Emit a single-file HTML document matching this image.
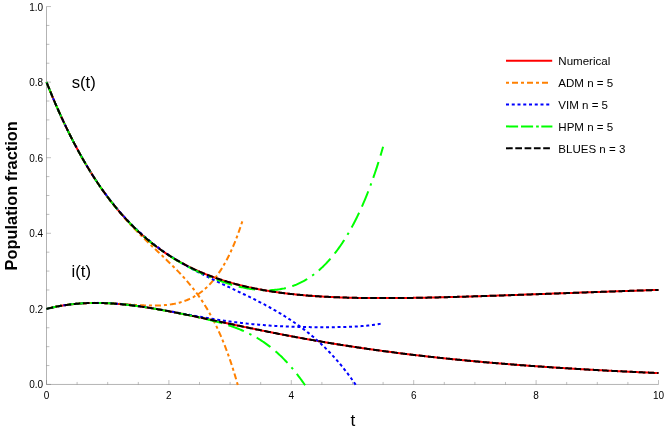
<!DOCTYPE html>
<html><head><meta charset="utf-8"><title>Population fraction</title>
<style>
html,body{margin:0;padding:0;background:#fff;}
svg{display:block;font-family:"Liberation Sans",sans-serif;will-change:transform;}
.c{fill:none;stroke-width:2;stroke-linecap:butt;stroke-linejoin:round;}
</style></head><body>
<svg width="664" height="430" viewBox="0 0 664 430">
<rect width="664" height="430" fill="#ffffff"/>
<g stroke="#666666" stroke-width="0.5" fill="none">
<line x1="46.5" y1="384.45" x2="658.5" y2="384.45"/>
<line x1="46.5" y1="384.45" x2="46.5" y2="6.55"/>
</g>
<g stroke="#666666" stroke-width="0.42" fill="none">
<line x1="46.50" y1="384.45" x2="46.50" y2="380.05"/><line x1="77.10" y1="384.45" x2="77.10" y2="381.95"/><line x1="107.70" y1="384.45" x2="107.70" y2="381.95"/><line x1="138.30" y1="384.45" x2="138.30" y2="381.95"/><line x1="168.90" y1="384.45" x2="168.90" y2="380.05"/><line x1="199.50" y1="384.45" x2="199.50" y2="381.95"/><line x1="230.10" y1="384.45" x2="230.10" y2="381.95"/><line x1="260.70" y1="384.45" x2="260.70" y2="381.95"/><line x1="291.30" y1="384.45" x2="291.30" y2="380.05"/><line x1="321.90" y1="384.45" x2="321.90" y2="381.95"/><line x1="352.50" y1="384.45" x2="352.50" y2="381.95"/><line x1="383.10" y1="384.45" x2="383.10" y2="381.95"/><line x1="413.70" y1="384.45" x2="413.70" y2="380.05"/><line x1="444.30" y1="384.45" x2="444.30" y2="381.95"/><line x1="474.90" y1="384.45" x2="474.90" y2="381.95"/><line x1="505.50" y1="384.45" x2="505.50" y2="381.95"/><line x1="536.10" y1="384.45" x2="536.10" y2="380.05"/><line x1="566.70" y1="384.45" x2="566.70" y2="381.95"/><line x1="597.30" y1="384.45" x2="597.30" y2="381.95"/><line x1="627.90" y1="384.45" x2="627.90" y2="381.95"/><line x1="658.50" y1="384.45" x2="658.50" y2="380.05"/><line x1="46.50" y1="384.45" x2="51.00" y2="384.45"/><line x1="46.50" y1="365.56" x2="49.40" y2="365.56"/><line x1="46.50" y1="346.66" x2="49.40" y2="346.66"/><line x1="46.50" y1="327.76" x2="49.40" y2="327.76"/><line x1="46.50" y1="308.87" x2="51.00" y2="308.87"/><line x1="46.50" y1="289.98" x2="49.40" y2="289.98"/><line x1="46.50" y1="271.08" x2="49.40" y2="271.08"/><line x1="46.50" y1="252.18" x2="49.40" y2="252.18"/><line x1="46.50" y1="233.29" x2="51.00" y2="233.29"/><line x1="46.50" y1="214.39" x2="49.40" y2="214.39"/><line x1="46.50" y1="195.50" x2="49.40" y2="195.50"/><line x1="46.50" y1="176.60" x2="49.40" y2="176.60"/><line x1="46.50" y1="157.71" x2="51.00" y2="157.71"/><line x1="46.50" y1="138.81" x2="49.40" y2="138.81"/><line x1="46.50" y1="119.92" x2="49.40" y2="119.92"/><line x1="46.50" y1="101.03" x2="49.40" y2="101.03"/><line x1="46.50" y1="82.13" x2="51.00" y2="82.13"/><line x1="46.50" y1="63.23" x2="49.40" y2="63.23"/><line x1="46.50" y1="44.34" x2="49.40" y2="44.34"/><line x1="46.50" y1="25.44" x2="49.40" y2="25.44"/><line x1="46.50" y1="6.55" x2="51.00" y2="6.55"/>
</g>
<g font-size="10" fill="#000"><text x="46.50" y="398.6" text-anchor="middle">0</text><text x="168.90" y="398.6" text-anchor="middle">2</text><text x="291.30" y="398.6" text-anchor="middle">4</text><text x="413.70" y="398.6" text-anchor="middle">6</text><text x="536.10" y="398.6" text-anchor="middle">8</text><text x="658.50" y="398.6" text-anchor="middle">10</text><text x="43.1" y="388.45" text-anchor="end">0.0</text><text x="43.1" y="312.87" text-anchor="end">0.2</text><text x="43.1" y="237.29" text-anchor="end">0.4</text><text x="43.1" y="161.71" text-anchor="end">0.6</text><text x="43.1" y="86.13" text-anchor="end">0.8</text><text x="43.1" y="10.55" text-anchor="end">1.0</text></g>
<text x="352.95" y="425.5" font-size="17.3" text-anchor="middle" fill="#000">t</text>
<text transform="translate(16.7,195.8) rotate(-90)" font-size="16.4" font-weight="bold" text-anchor="middle" fill="#000">Population fraction</text>
<text x="71.7" y="88.2" font-size="16.7" fill="#000">s(t)</text>
<text x="71.5" y="277.0" font-size="16.7" fill="#000">i(t)</text>
<g class="c">
<path d="M46.50,82.13 L47.52,84.69 L48.54,87.22 L49.56,89.73 L50.58,92.22 L51.60,94.68 L52.62,97.12 L53.64,99.53 L54.66,101.92 L55.68,104.28 L56.70,106.62 L57.72,108.94 L58.74,111.24 L59.76,113.51 L60.78,115.76 L61.80,117.98 L62.82,120.18 L63.84,122.36 L64.86,124.52 L65.88,126.66 L66.90,128.77 L67.92,130.86 L68.94,132.93 L69.96,134.98 L70.98,137.01 L72.00,139.01 L73.02,141.00 L74.04,142.96 L75.06,144.90 L76.08,146.83 L77.10,148.73 L78.12,150.61 L79.14,152.47 L80.16,154.31 L81.18,156.14 L82.20,157.94 L83.22,159.72 L84.24,161.49 L85.26,163.23 L86.28,164.96 L87.30,166.66 L88.32,168.35 L89.34,170.02 L90.36,171.67 L91.38,173.31 L92.40,174.92 L93.42,176.52 L94.44,178.10 L95.46,179.66 L96.48,181.21 L97.50,182.74 L98.52,184.25 L99.54,185.74 L100.56,187.22 L101.58,188.68 L102.60,190.12 L103.62,191.55 L104.64,192.96 L105.66,194.36 L106.68,195.74 L107.70,197.10 L108.72,198.45 L109.74,199.78 L110.76,201.10 L111.78,202.40 L112.80,203.69 L113.82,204.96 L114.84,206.22 L115.86,207.47 L116.88,208.70 L117.90,209.91 L118.92,211.11 L119.94,212.30 L120.96,213.47 L121.98,214.63 L123.00,215.78 L124.02,216.91 L125.04,218.03 L126.06,219.13 L127.08,220.23 L128.10,221.31 L129.12,222.37 L130.14,223.43 L131.16,224.47 L132.18,225.50 L133.20,226.52 L134.22,227.52 L135.24,228.51 L136.26,229.50 L137.28,230.47 L138.30,231.42 L139.32,232.37 L140.34,233.30 L141.36,234.23 L142.38,235.14 L143.40,236.04 L144.42,236.93 L145.44,237.81 L146.46,238.68 L147.48,239.54 L148.50,240.39 L149.52,241.22 L150.54,242.05 L151.56,242.87 L152.58,243.67 L153.60,244.47 L154.62,245.26 L155.64,246.04 L156.66,246.80 L157.68,247.56 L158.70,248.31 L159.72,249.05 L160.74,249.78 L161.76,250.50 L162.78,251.21 L163.80,251.92 L164.82,252.61 L165.84,253.30 L166.86,253.97 L167.88,254.64 L168.90,255.30 L169.92,255.95 L170.94,256.60 L171.96,257.23 L172.98,257.86 L174.00,258.48 L175.02,259.09 L176.04,259.69 L177.06,260.29 L178.08,260.88 L179.10,261.46 L180.12,262.03 L181.14,262.60 L182.16,263.16 L183.18,263.71 L184.20,264.25 L185.22,264.79 L186.24,265.32 L187.26,265.84 L188.28,266.36 L189.30,266.87 L190.32,267.37 L191.34,267.87 L192.36,268.36 L193.38,268.84 L194.40,269.32 L195.42,269.79 L196.44,270.25 L197.46,270.71 L198.48,271.17 L199.50,271.61 L200.52,272.05 L201.54,272.49 L202.56,272.91 L203.58,273.34 L204.60,273.76 L205.62,274.17 L206.64,274.57 L207.66,274.97 L208.68,275.37 L209.70,275.76 L210.72,276.14 L211.74,276.52 L212.76,276.90 L213.78,277.26 L214.80,277.63 L215.82,277.99 L216.84,278.34 L217.86,278.69 L218.88,279.03 L219.90,279.37 L220.92,279.71 L221.94,280.04 L222.96,280.36 L223.98,280.69 L225.00,281.00 L226.02,281.31 L227.04,281.62 L228.06,281.92 L229.08,282.22 L230.10,282.52 L231.12,282.81 L232.14,283.09 L233.16,283.38 L234.18,283.65 L235.20,283.93 L236.22,284.20 L237.24,284.46 L238.26,284.73 L239.28,284.98 L240.30,285.24 L241.32,285.49 L242.34,285.74 L243.36,285.98 L244.38,286.22 L245.40,286.46 L246.42,286.69 L247.44,286.92 L248.46,287.15 L249.48,287.37 L250.50,287.59 L251.52,287.80 L252.54,288.02 L253.56,288.23 L254.58,288.43 L255.60,288.63 L256.62,288.83 L257.64,289.03 L258.66,289.22 L259.68,289.42 L260.70,289.60 L261.72,289.79 L262.74,289.97 L263.76,290.15 L264.78,290.32 L265.80,290.50 L266.82,290.67 L267.84,290.84 L268.86,291.00 L269.88,291.16 L270.90,291.32 L271.92,291.48 L272.94,291.64 L273.96,291.79 L274.98,291.94 L276.00,292.08 L277.02,292.23 L278.04,292.37 L279.06,292.51 L280.08,292.65 L281.10,292.78 L282.12,292.91 L283.14,293.04 L284.16,293.17 L285.18,293.30 L286.20,293.42 L287.22,293.54 L288.24,293.66 L289.26,293.78 L290.28,293.89 L291.30,294.01 L292.32,294.12 L293.34,294.23 L294.36,294.33 L295.38,294.44 L296.40,294.54 L297.42,294.64 L298.44,294.74 L299.46,294.84 L300.48,294.93 L301.50,295.03 L302.52,295.12 L303.54,295.21 L304.56,295.30 L305.58,295.38 L306.60,295.47 L307.62,295.55 L308.64,295.63 L309.66,295.71 L310.68,295.79 L311.70,295.86 L312.72,295.94 L313.74,296.01 L314.76,296.08 L315.78,296.15 L316.80,296.22 L317.82,296.29 L318.84,296.35 L319.86,296.42 L320.88,296.48 L321.90,296.54 L322.92,296.60 L323.94,296.66 L324.96,296.71 L325.98,296.77 L327.00,296.82 L328.02,296.87 L329.04,296.93 L330.06,296.98 L331.08,297.02 L332.10,297.07 L333.12,297.12 L334.14,297.16 L335.16,297.21 L336.18,297.25 L337.20,297.29 L338.22,297.33 L339.24,297.37 L340.26,297.41 L341.28,297.44 L342.30,297.48 L343.32,297.51 L344.34,297.55 L345.36,297.58 L346.38,297.61 L347.40,297.64 L348.42,297.67 L349.44,297.70 L350.46,297.72 L351.48,297.75 L352.50,297.77 L353.52,297.80 L354.54,297.82 L355.56,297.84 L356.58,297.86 L357.60,297.88 L358.62,297.90 L359.64,297.92 L360.66,297.94 L361.68,297.96 L362.70,297.97 L363.72,297.99 L364.74,298.00 L365.76,298.01 L366.78,298.03 L367.80,298.04 L368.82,298.05 L369.84,298.06 L370.86,298.07 L371.88,298.08 L372.90,298.08 L373.92,298.09 L374.94,298.10 L375.96,298.10 L376.98,298.11 L378.00,298.11 L379.02,298.11 L380.04,298.12 L381.06,298.12 L382.08,298.12 L383.10,298.12 L384.12,298.12 L385.14,298.12 L386.16,298.12 L387.18,298.12 L388.20,298.11 L389.22,298.11 L390.24,298.11 L391.26,298.10 L392.28,298.10 L393.30,298.09 L394.32,298.09 L395.34,298.08 L396.36,298.07 L397.38,298.06 L398.40,298.06 L399.42,298.05 L400.44,298.04 L401.46,298.03 L402.48,298.02 L403.50,298.01 L404.52,298.00 L405.54,297.98 L406.56,297.97 L407.58,297.96 L408.60,297.94 L409.62,297.93 L410.64,297.92 L411.66,297.90 L412.68,297.89 L413.70,297.87 L414.72,297.85 L415.74,297.84 L416.76,297.82 L417.78,297.80 L418.80,297.79 L419.82,297.77 L420.84,297.75 L421.86,297.73 L422.88,297.71 L423.90,297.69 L424.92,297.67 L425.94,297.65 L426.96,297.63 L427.98,297.61 L429.00,297.59 L430.02,297.57 L431.04,297.54 L432.06,297.52 L433.08,297.50 L434.10,297.48 L435.12,297.45 L436.14,297.43 L437.16,297.41 L438.18,297.38 L439.20,297.36 L440.22,297.33 L441.24,297.31 L442.26,297.28 L443.28,297.26 L444.30,297.23 L445.32,297.20 L446.34,297.18 L447.36,297.15 L448.38,297.12 L449.40,297.10 L450.42,297.07 L451.44,297.04 L452.46,297.01 L453.48,296.98 L454.50,296.95 L455.52,296.93 L456.54,296.90 L457.56,296.87 L458.58,296.84 L459.60,296.81 L460.62,296.78 L461.64,296.75 L462.66,296.72 L463.68,296.69 L464.70,296.66 L465.72,296.63 L466.74,296.60 L467.76,296.57 L468.78,296.53 L469.80,296.50 L470.82,296.47 L471.84,296.44 L472.86,296.41 L473.88,296.37 L474.90,296.34 L475.92,296.31 L476.94,296.28 L477.96,296.24 L478.98,296.21 L480.00,296.18 L481.02,296.15 L482.04,296.11 L483.06,296.08 L484.08,296.04 L485.10,296.01 L486.12,295.98 L487.14,295.94 L488.16,295.91 L489.18,295.87 L490.20,295.84 L491.22,295.81 L492.24,295.77 L493.26,295.74 L494.28,295.70 L495.30,295.67 L496.32,295.63 L497.34,295.60 L498.36,295.56 L499.38,295.53 L500.40,295.49 L501.42,295.46 L502.44,295.42 L503.46,295.39 L504.48,295.35 L505.50,295.31 L506.52,295.28 L507.54,295.24 L508.56,295.21 L509.58,295.17 L510.60,295.13 L511.62,295.10 L512.64,295.06 L513.66,295.03 L514.68,294.99 L515.70,294.95 L516.72,294.92 L517.74,294.88 L518.76,294.84 L519.78,294.81 L520.80,294.77 L521.82,294.73 L522.84,294.70 L523.86,294.66 L524.88,294.62 L525.90,294.59 L526.92,294.55 L527.94,294.51 L528.96,294.48 L529.98,294.44 L531.00,294.40 L532.02,294.36 L533.04,294.33 L534.06,294.29 L535.08,294.25 L536.10,294.22 L537.12,294.18 L538.14,294.14 L539.16,294.10 L540.18,294.07 L541.20,294.03 L542.22,293.99 L543.24,293.96 L544.26,293.92 L545.28,293.88 L546.30,293.84 L547.32,293.81 L548.34,293.77 L549.36,293.73 L550.38,293.69 L551.40,293.66 L552.42,293.62 L553.44,293.58 L554.46,293.54 L555.48,293.51 L556.50,293.47 L557.52,293.43 L558.54,293.40 L559.56,293.36 L560.58,293.32 L561.60,293.28 L562.62,293.25 L563.64,293.21 L564.66,293.17 L565.68,293.14 L566.70,293.10 L567.72,293.06 L568.74,293.02 L569.76,292.99 L570.78,292.95 L571.80,292.91 L572.82,292.88 L573.84,292.84 L574.86,292.80 L575.88,292.76 L576.90,292.73 L577.92,292.69 L578.94,292.65 L579.96,292.62 L580.98,292.58 L582.00,292.54 L583.02,292.51 L584.04,292.47 L585.06,292.43 L586.08,292.40 L587.10,292.36 L588.12,292.32 L589.14,292.29 L590.16,292.25 L591.18,292.21 L592.20,292.18 L593.22,292.14 L594.24,292.10 L595.26,292.07 L596.28,292.03 L597.30,292.00 L598.32,291.96 L599.34,291.92 L600.36,291.89 L601.38,291.85 L602.40,291.81 L603.42,291.78 L604.44,291.74 L605.46,291.71 L606.48,291.67 L607.50,291.64 L608.52,291.60 L609.54,291.56 L610.56,291.53 L611.58,291.49 L612.60,291.46 L613.62,291.42 L614.64,291.39 L615.66,291.35 L616.68,291.32 L617.70,291.28 L618.72,291.24 L619.74,291.21 L620.76,291.17 L621.78,291.14 L622.80,291.10 L623.82,291.07 L624.84,291.03 L625.86,291.00 L626.88,290.97 L627.90,290.93 L628.92,290.90 L629.94,290.86 L630.96,290.83 L631.98,290.79 L633.00,290.76 L634.02,290.72 L635.04,290.69 L636.06,290.65 L637.08,290.62 L638.10,290.59 L639.12,290.55 L640.14,290.52 L641.16,290.48 L642.18,290.45 L643.20,290.42 L644.22,290.38 L645.24,290.35 L646.26,290.32 L647.28,290.28 L648.30,290.25 L649.32,290.21 L650.34,290.18 L651.36,290.15 L652.38,290.11 L653.40,290.08 L654.42,290.05 L655.44,290.02 L656.46,289.98 L657.48,289.95 L658.50,289.92" stroke="#ff0000"/>
<path d="M46.50,308.87 L47.52,308.62 L48.54,308.37 L49.56,308.12 L50.58,307.89 L51.60,307.66 L52.62,307.43 L53.64,307.21 L54.66,307.00 L55.68,306.79 L56.70,306.59 L57.72,306.39 L58.74,306.20 L59.76,306.02 L60.78,305.84 L61.80,305.67 L62.82,305.50 L63.84,305.34 L64.86,305.18 L65.88,305.03 L66.90,304.89 L67.92,304.75 L68.94,304.62 L69.96,304.49 L70.98,304.37 L72.00,304.25 L73.02,304.14 L74.04,304.03 L75.06,303.93 L76.08,303.83 L77.10,303.74 L78.12,303.66 L79.14,303.58 L80.16,303.50 L81.18,303.43 L82.20,303.37 L83.22,303.31 L84.24,303.26 L85.26,303.21 L86.28,303.16 L87.30,303.12 L88.32,303.09 L89.34,303.05 L90.36,303.03 L91.38,303.01 L92.40,302.99 L93.42,302.98 L94.44,302.97 L95.46,302.97 L96.48,302.97 L97.50,302.98 L98.52,302.99 L99.54,303.00 L100.56,303.02 L101.58,303.04 L102.60,303.07 L103.62,303.10 L104.64,303.13 L105.66,303.17 L106.68,303.21 L107.70,303.26 L108.72,303.31 L109.74,303.36 L110.76,303.42 L111.78,303.48 L112.80,303.55 L113.82,303.62 L114.84,303.69 L115.86,303.76 L116.88,303.84 L117.90,303.93 L118.92,304.01 L119.94,304.10 L120.96,304.19 L121.98,304.29 L123.00,304.38 L124.02,304.49 L125.04,304.59 L126.06,304.70 L127.08,304.81 L128.10,304.92 L129.12,305.04 L130.14,305.15 L131.16,305.28 L132.18,305.40 L133.20,305.53 L134.22,305.66 L135.24,305.79 L136.26,305.92 L137.28,306.06 L138.30,306.20 L139.32,306.34 L140.34,306.48 L141.36,306.63 L142.38,306.78 L143.40,306.93 L144.42,307.08 L145.44,307.23 L146.46,307.39 L147.48,307.55 L148.50,307.71 L149.52,307.87 L150.54,308.03 L151.56,308.20 L152.58,308.37 L153.60,308.54 L154.62,308.71 L155.64,308.88 L156.66,309.06 L157.68,309.23 L158.70,309.41 L159.72,309.59 L160.74,309.77 L161.76,309.95 L162.78,310.13 L163.80,310.32 L164.82,310.51 L165.84,310.69 L166.86,310.88 L167.88,311.07 L168.90,311.26 L169.92,311.46 L170.94,311.65 L171.96,311.84 L172.98,312.04 L174.00,312.24 L175.02,312.43 L176.04,312.63 L177.06,312.83 L178.08,313.03 L179.10,313.23 L180.12,313.44 L181.14,313.64 L182.16,313.84 L183.18,314.05 L184.20,314.25 L185.22,314.46 L186.24,314.67 L187.26,314.87 L188.28,315.08 L189.30,315.29 L190.32,315.50 L191.34,315.71 L192.36,315.92 L193.38,316.13 L194.40,316.34 L195.42,316.56 L196.44,316.77 L197.46,316.98 L198.48,317.19 L199.50,317.41 L200.52,317.62 L201.54,317.84 L202.56,318.05 L203.58,318.27 L204.60,318.48 L205.62,318.70 L206.64,318.91 L207.66,319.13 L208.68,319.34 L209.70,319.56 L210.72,319.78 L211.74,319.99 L212.76,320.21 L213.78,320.43 L214.80,320.64 L215.82,320.86 L216.84,321.08 L217.86,321.29 L218.88,321.51 L219.90,321.73 L220.92,321.94 L221.94,322.16 L222.96,322.38 L223.98,322.59 L225.00,322.81 L226.02,323.03 L227.04,323.24 L228.06,323.46 L229.08,323.68 L230.10,323.89 L231.12,324.11 L232.14,324.32 L233.16,324.54 L234.18,324.76 L235.20,324.97 L236.22,325.19 L237.24,325.40 L238.26,325.62 L239.28,325.83 L240.30,326.04 L241.32,326.26 L242.34,326.47 L243.36,326.68 L244.38,326.90 L245.40,327.11 L246.42,327.32 L247.44,327.53 L248.46,327.75 L249.48,327.96 L250.50,328.17 L251.52,328.38 L252.54,328.59 L253.56,328.80 L254.58,329.01 L255.60,329.22 L256.62,329.43 L257.64,329.63 L258.66,329.84 L259.68,330.05 L260.70,330.26 L261.72,330.46 L262.74,330.67 L263.76,330.87 L264.78,331.08 L265.80,331.28 L266.82,331.49 L267.84,331.69 L268.86,331.90 L269.88,332.10 L270.90,332.30 L271.92,332.50 L272.94,332.70 L273.96,332.90 L274.98,333.10 L276.00,333.30 L277.02,333.50 L278.04,333.70 L279.06,333.90 L280.08,334.10 L281.10,334.30 L282.12,334.49 L283.14,334.69 L284.16,334.88 L285.18,335.08 L286.20,335.27 L287.22,335.47 L288.24,335.66 L289.26,335.85 L290.28,336.04 L291.30,336.24 L292.32,336.43 L293.34,336.62 L294.36,336.81 L295.38,337.00 L296.40,337.19 L297.42,337.37 L298.44,337.56 L299.46,337.75 L300.48,337.93 L301.50,338.12 L302.52,338.31 L303.54,338.49 L304.56,338.67 L305.58,338.86 L306.60,339.04 L307.62,339.22 L308.64,339.40 L309.66,339.58 L310.68,339.77 L311.70,339.94 L312.72,340.12 L313.74,340.30 L314.76,340.48 L315.78,340.66 L316.80,340.83 L317.82,341.01 L318.84,341.19 L319.86,341.36 L320.88,341.54 L321.90,341.71 L322.92,341.88 L323.94,342.05 L324.96,342.23 L325.98,342.40 L327.00,342.57 L328.02,342.74 L329.04,342.91 L330.06,343.08 L331.08,343.24 L332.10,343.41 L333.12,343.58 L334.14,343.75 L335.16,343.91 L336.18,344.08 L337.20,344.24 L338.22,344.40 L339.24,344.57 L340.26,344.73 L341.28,344.89 L342.30,345.05 L343.32,345.21 L344.34,345.37 L345.36,345.53 L346.38,345.69 L347.40,345.85 L348.42,346.01 L349.44,346.17 L350.46,346.32 L351.48,346.48 L352.50,346.63 L353.52,346.79 L354.54,346.94 L355.56,347.10 L356.58,347.25 L357.60,347.40 L358.62,347.55 L359.64,347.70 L360.66,347.85 L361.68,348.00 L362.70,348.15 L363.72,348.30 L364.74,348.45 L365.76,348.60 L366.78,348.74 L367.80,348.89 L368.82,349.04 L369.84,349.18 L370.86,349.33 L371.88,349.47 L372.90,349.61 L373.92,349.76 L374.94,349.90 L375.96,350.04 L376.98,350.18 L378.00,350.32 L379.02,350.46 L380.04,350.60 L381.06,350.74 L382.08,350.88 L383.10,351.02 L384.12,351.15 L385.14,351.29 L386.16,351.43 L387.18,351.56 L388.20,351.70 L389.22,351.83 L390.24,351.97 L391.26,352.10 L392.28,352.23 L393.30,352.36 L394.32,352.50 L395.34,352.63 L396.36,352.76 L397.38,352.89 L398.40,353.02 L399.42,353.15 L400.44,353.27 L401.46,353.40 L402.48,353.53 L403.50,353.66 L404.52,353.78 L405.54,353.91 L406.56,354.03 L407.58,354.16 L408.60,354.28 L409.62,354.40 L410.64,354.53 L411.66,354.65 L412.68,354.77 L413.70,354.89 L414.72,355.01 L415.74,355.14 L416.76,355.26 L417.78,355.37 L418.80,355.49 L419.82,355.61 L420.84,355.73 L421.86,355.85 L422.88,355.96 L423.90,356.08 L424.92,356.20 L425.94,356.31 L426.96,356.43 L427.98,356.54 L429.00,356.66 L430.02,356.77 L431.04,356.88 L432.06,356.99 L433.08,357.11 L434.10,357.22 L435.12,357.33 L436.14,357.44 L437.16,357.55 L438.18,357.66 L439.20,357.77 L440.22,357.88 L441.24,357.99 L442.26,358.09 L443.28,358.20 L444.30,358.31 L445.32,358.41 L446.34,358.52 L447.36,358.63 L448.38,358.73 L449.40,358.84 L450.42,358.94 L451.44,359.04 L452.46,359.15 L453.48,359.25 L454.50,359.35 L455.52,359.45 L456.54,359.56 L457.56,359.66 L458.58,359.76 L459.60,359.86 L460.62,359.96 L461.64,360.06 L462.66,360.16 L463.68,360.25 L464.70,360.35 L465.72,360.45 L466.74,360.55 L467.76,360.64 L468.78,360.74 L469.80,360.84 L470.82,360.93 L471.84,361.03 L472.86,361.12 L473.88,361.22 L474.90,361.31 L475.92,361.40 L476.94,361.50 L477.96,361.59 L478.98,361.68 L480.00,361.77 L481.02,361.86 L482.04,361.96 L483.06,362.05 L484.08,362.14 L485.10,362.23 L486.12,362.32 L487.14,362.41 L488.16,362.49 L489.18,362.58 L490.20,362.67 L491.22,362.76 L492.24,362.85 L493.26,362.93 L494.28,363.02 L495.30,363.10 L496.32,363.19 L497.34,363.28 L498.36,363.36 L499.38,363.45 L500.40,363.53 L501.42,363.61 L502.44,363.70 L503.46,363.78 L504.48,363.86 L505.50,363.95 L506.52,364.03 L507.54,364.11 L508.56,364.19 L509.58,364.27 L510.60,364.35 L511.62,364.43 L512.64,364.51 L513.66,364.59 L514.68,364.67 L515.70,364.75 L516.72,364.83 L517.74,364.91 L518.76,364.99 L519.78,365.06 L520.80,365.14 L521.82,365.22 L522.84,365.29 L523.86,365.37 L524.88,365.45 L525.90,365.52 L526.92,365.60 L527.94,365.67 L528.96,365.75 L529.98,365.82 L531.00,365.90 L532.02,365.97 L533.04,366.04 L534.06,366.12 L535.08,366.19 L536.10,366.26 L537.12,366.33 L538.14,366.40 L539.16,366.48 L540.18,366.55 L541.20,366.62 L542.22,366.69 L543.24,366.76 L544.26,366.83 L545.28,366.90 L546.30,366.97 L547.32,367.04 L548.34,367.11 L549.36,367.18 L550.38,367.24 L551.40,367.31 L552.42,367.38 L553.44,367.45 L554.46,367.51 L555.48,367.58 L556.50,367.65 L557.52,367.71 L558.54,367.78 L559.56,367.84 L560.58,367.91 L561.60,367.97 L562.62,368.04 L563.64,368.10 L564.66,368.17 L565.68,368.23 L566.70,368.30 L567.72,368.36 L568.74,368.42 L569.76,368.49 L570.78,368.55 L571.80,368.61 L572.82,368.67 L573.84,368.73 L574.86,368.80 L575.88,368.86 L576.90,368.92 L577.92,368.98 L578.94,369.04 L579.96,369.10 L580.98,369.16 L582.00,369.22 L583.02,369.28 L584.04,369.34 L585.06,369.40 L586.08,369.46 L587.10,369.52 L588.12,369.57 L589.14,369.63 L590.16,369.69 L591.18,369.75 L592.20,369.80 L593.22,369.86 L594.24,369.92 L595.26,369.97 L596.28,370.03 L597.30,370.09 L598.32,370.14 L599.34,370.20 L600.36,370.25 L601.38,370.31 L602.40,370.36 L603.42,370.42 L604.44,370.47 L605.46,370.53 L606.48,370.58 L607.50,370.64 L608.52,370.69 L609.54,370.74 L610.56,370.80 L611.58,370.85 L612.60,370.90 L613.62,370.95 L614.64,371.01 L615.66,371.06 L616.68,371.11 L617.70,371.16 L618.72,371.21 L619.74,371.26 L620.76,371.31 L621.78,371.37 L622.80,371.42 L623.82,371.47 L624.84,371.52 L625.86,371.57 L626.88,371.62 L627.90,371.66 L628.92,371.71 L629.94,371.76 L630.96,371.81 L631.98,371.86 L633.00,371.91 L634.02,371.96 L635.04,372.01 L636.06,372.05 L637.08,372.10 L638.10,372.15 L639.12,372.20 L640.14,372.24 L641.16,372.29 L642.18,372.34 L643.20,372.38 L644.22,372.43 L645.24,372.48 L646.26,372.52 L647.28,372.57 L648.30,372.61 L649.32,372.66 L650.34,372.70 L651.36,372.75 L652.38,372.79 L653.40,372.84 L654.42,372.88 L655.44,372.93 L656.46,372.97 L657.48,373.01 L658.50,373.06" stroke="#ff0000"/>
<path d="M46.50,82.13 L47.52,84.69 L48.54,87.22 L49.56,89.73 L50.58,92.22 L51.60,94.68 L52.62,97.12 L53.64,99.53 L54.66,101.92 L55.68,104.28 L56.70,106.62 L57.72,108.94 L58.74,111.24 L59.76,113.51 L60.78,115.76 L61.80,117.98 L62.82,120.18 L63.84,122.36 L64.86,124.52 L65.88,126.66 L66.90,128.77 L67.92,130.86 L68.94,132.93 L69.96,134.98 L70.98,137.01 L72.00,139.01 L73.02,141.00 L74.04,142.96 L75.06,144.91 L76.08,146.83 L77.10,148.73 L78.12,150.61 L79.14,152.48 L80.16,154.32 L81.18,156.14 L82.20,157.95 L83.22,159.73 L84.24,161.49 L85.26,163.24 L86.28,164.97 L87.30,166.68 L88.32,168.37 L89.34,170.04 L90.36,171.69 L91.38,173.33 L92.40,174.95 L93.42,176.55 L94.44,178.13 L95.46,179.70 L96.48,181.25 L97.50,182.78 L98.52,184.30 L99.54,185.80 L100.56,187.28 L101.58,188.75 L102.60,190.20 L103.62,191.64 L104.64,193.06 L105.66,194.46 L106.68,195.86 L107.70,197.23 L108.72,198.59 L109.74,199.94 L110.76,201.27 L111.78,202.59 L112.80,203.90 L113.82,205.19 L114.84,206.47 L115.86,207.73 L116.88,208.98 L117.90,210.22 L118.92,211.45 L119.94,212.67 L120.96,213.87 L121.98,215.06 L123.00,216.24 L124.02,217.41 L125.04,218.57 L126.06,219.71 L127.08,220.85 L128.10,221.98 L129.12,223.09 L130.14,224.20 L131.16,225.30 L132.18,226.38 L133.20,227.46 L134.22,228.53 L135.24,229.60 L136.26,230.65 L137.28,231.70 L138.30,232.74 L139.32,233.77 L140.34,234.79 L141.36,235.81 L142.38,236.82 L143.40,237.83 L144.42,238.83 L145.44,239.83 L146.46,240.82 L147.48,241.80 L148.50,242.79 L149.52,243.76 L150.54,244.74 L151.56,245.71 L152.58,246.68 L153.60,247.65 L154.62,248.61 L155.64,249.58 L156.66,250.54 L157.68,251.50 L158.70,252.46 L159.72,253.42 L160.74,254.39 L161.76,255.35 L162.78,256.31 L163.80,257.28 L164.82,258.25 L165.84,259.22 L166.86,260.20 L167.88,261.18 L168.90,262.17 L169.92,263.16 L170.94,264.15 L171.96,265.16 L172.98,266.17 L174.00,267.18 L175.02,268.21 L176.04,269.24 L177.06,270.29 L178.08,271.34 L179.10,272.40 L180.12,273.48 L181.14,274.57 L182.16,275.67 L183.18,276.78 L184.20,277.91 L185.22,279.05 L186.24,280.21 L187.26,281.39 L188.28,282.58 L189.30,283.79 L190.32,285.02 L191.34,286.27 L192.36,287.54 L193.38,288.84 L194.40,290.16 L195.42,291.50 L196.44,292.86 L197.46,294.25 L198.48,295.67 L199.50,297.12 L200.52,298.59 L201.54,300.10 L202.56,301.64 L203.58,303.21 L204.60,304.81 L205.62,306.45 L206.64,308.12 L207.66,309.84 L208.68,311.59 L209.70,313.38 L210.72,315.21 L211.74,317.09 L212.76,319.01 L213.78,320.98 L214.80,323.00 L215.82,325.06 L216.84,327.18 L217.86,329.35 L218.88,331.57 L219.90,333.85 L220.92,336.19 L221.94,338.59 L222.96,341.05 L223.98,343.57 L225.00,346.16 L226.02,348.81 L227.04,351.54 L228.06,354.34 L229.08,357.21 L230.10,360.16 L231.12,363.18 L232.14,366.29 L233.16,369.48 L234.18,372.76 L235.20,376.12 L236.22,379.58 L237.24,383.13 L237.82,385.21" stroke="#ff8000" stroke-dasharray="3 3 6 3"/>
<path d="M46.50,308.87 L47.52,308.62 L48.54,308.37 L49.56,308.12 L50.58,307.89 L51.60,307.66 L52.62,307.43 L53.64,307.21 L54.66,307.00 L55.68,306.79 L56.70,306.59 L57.72,306.39 L58.74,306.20 L59.76,306.02 L60.78,305.84 L61.80,305.67 L62.82,305.50 L63.84,305.34 L64.86,305.18 L65.88,305.03 L66.90,304.89 L67.92,304.75 L68.94,304.62 L69.96,304.49 L70.98,304.37 L72.00,304.25 L73.02,304.14 L74.04,304.03 L75.06,303.93 L76.08,303.84 L77.10,303.75 L78.12,303.66 L79.14,303.58 L80.16,303.51 L81.18,303.44 L82.20,303.37 L83.22,303.31 L84.24,303.26 L85.26,303.21 L86.28,303.16 L87.30,303.12 L88.32,303.09 L89.34,303.06 L90.36,303.03 L91.38,303.01 L92.40,302.99 L93.42,302.98 L94.44,302.97 L95.46,302.97 L96.48,302.96 L97.50,302.97 L98.52,302.97 L99.54,302.99 L100.56,303.00 L101.58,303.02 L102.60,303.04 L103.62,303.07 L104.64,303.10 L105.66,303.13 L106.68,303.16 L107.70,303.20 L108.72,303.24 L109.74,303.29 L110.76,303.33 L111.78,303.38 L112.80,303.43 L113.82,303.49 L114.84,303.54 L115.86,303.60 L116.88,303.66 L117.90,303.72 L118.92,303.79 L119.94,303.85 L120.96,303.92 L121.98,303.98 L123.00,304.05 L124.02,304.12 L125.04,304.19 L126.06,304.26 L127.08,304.33 L128.10,304.40 L129.12,304.47 L130.14,304.54 L131.16,304.61 L132.18,304.68 L133.20,304.75 L134.22,304.81 L135.24,304.88 L136.26,304.94 L137.28,305.01 L138.30,305.07 L139.32,305.12 L140.34,305.18 L141.36,305.23 L142.38,305.28 L143.40,305.33 L144.42,305.38 L145.44,305.42 L146.46,305.45 L147.48,305.48 L148.50,305.51 L149.52,305.54 L150.54,305.55 L151.56,305.57 L152.58,305.57 L153.60,305.58 L154.62,305.57 L155.64,305.56 L156.66,305.54 L157.68,305.52 L158.70,305.48 L159.72,305.44 L160.74,305.40 L161.76,305.34 L162.78,305.27 L163.80,305.20 L164.82,305.11 L165.84,305.02 L166.86,304.91 L167.88,304.80 L168.90,304.67 L169.92,304.53 L170.94,304.38 L171.96,304.22 L172.98,304.05 L174.00,303.86 L175.02,303.65 L176.04,303.44 L177.06,303.21 L178.08,302.96 L179.10,302.70 L180.12,302.42 L181.14,302.12 L182.16,301.81 L183.18,301.48 L184.20,301.13 L185.22,300.76 L186.24,300.37 L187.26,299.96 L188.28,299.53 L189.30,299.08 L190.32,298.61 L191.34,298.11 L192.36,297.59 L193.38,297.05 L194.40,296.48 L195.42,295.88 L196.44,295.26 L197.46,294.61 L198.48,293.93 L199.50,293.23 L200.52,292.49 L201.54,291.72 L202.56,290.92 L203.58,290.09 L204.60,289.22 L205.62,288.32 L206.64,287.39 L207.66,286.41 L208.68,285.40 L209.70,284.35 L210.72,283.26 L211.74,282.13 L212.76,280.95 L213.78,279.73 L214.80,278.47 L215.82,277.16 L216.84,275.80 L217.86,274.39 L218.88,272.93 L219.90,271.42 L220.92,269.86 L221.94,268.24 L222.96,266.56 L223.98,264.83 L225.00,263.03 L226.02,261.17 L227.04,259.25 L228.06,257.26 L229.08,255.21 L230.10,253.08 L231.12,250.88 L232.14,248.61 L233.16,246.26 L234.18,243.84 L235.20,241.33 L236.22,238.74 L237.24,236.06 L238.26,233.30 L239.28,230.44 L240.30,227.49 L241.32,224.44 L242.34,221.30" stroke="#ff8000" stroke-dasharray="3 3 6 3" stroke-dashoffset="2"/>
<path d="M46.50,82.13 L47.52,84.69 L48.54,87.22 L49.56,89.73 L50.58,92.22 L51.60,94.68 L52.62,97.12 L53.64,99.53 L54.66,101.92 L55.68,104.28 L56.70,106.62 L57.72,108.94 L58.74,111.24 L59.76,113.51 L60.78,115.75 L61.80,117.98 L62.82,120.18 L63.84,122.36 L64.86,124.52 L65.88,126.65 L66.90,128.76 L67.92,130.86 L68.94,132.92 L69.96,134.97 L70.98,137.00 L72.00,139.00 L73.02,140.98 L74.04,142.95 L75.06,144.89 L76.08,146.81 L77.10,148.71 L78.12,150.59 L79.14,152.45 L80.16,154.29 L81.18,156.10 L82.20,157.90 L83.22,159.68 L84.24,161.44 L85.26,163.18 L86.28,164.91 L87.30,166.61 L88.32,168.29 L89.34,169.96 L90.36,171.60 L91.38,173.23 L92.40,174.84 L93.42,176.43 L94.44,178.01 L95.46,179.56 L96.48,181.10 L97.50,182.62 L98.52,184.13 L99.54,185.61 L100.56,187.08 L101.58,188.54 L102.60,189.97 L103.62,191.39 L104.64,192.79 L105.66,194.18 L106.68,195.55 L107.70,196.91 L108.72,198.25 L109.74,199.57 L110.76,200.88 L111.78,202.17 L112.80,203.45 L113.82,204.72 L114.84,205.96 L115.86,207.20 L116.88,208.42 L117.90,209.62 L118.92,210.81 L119.94,211.99 L120.96,213.15 L121.98,214.30 L123.00,215.44 L124.02,216.56 L125.04,217.67 L126.06,218.77 L127.08,219.85 L128.10,220.92 L129.12,221.98 L130.14,223.03 L131.16,224.06 L132.18,225.08 L133.20,226.09 L134.22,227.09 L135.24,228.07 L136.26,229.05 L137.28,230.01 L138.30,230.96 L139.32,231.90 L140.34,232.83 L141.36,233.75 L142.38,234.66 L143.40,235.56 L144.42,236.44 L145.44,237.32 L146.46,238.19 L147.48,239.05 L148.50,239.89 L149.52,240.73 L150.54,241.56 L151.56,242.38 L152.58,243.19 L153.60,243.99 L154.62,244.78 L155.64,245.56 L156.66,246.34 L157.68,247.10 L158.70,247.86 L159.72,248.61 L160.74,249.35 L161.76,250.08 L162.78,250.81 L163.80,251.52 L164.82,252.23 L165.84,252.94 L166.86,253.63 L167.88,254.32 L168.90,255.00 L169.92,255.68 L170.94,256.34 L171.96,257.00 L172.98,257.66 L174.00,258.31 L175.02,258.95 L176.04,259.58 L177.06,260.21 L178.08,260.84 L179.10,261.46 L180.12,262.07 L181.14,262.68 L182.16,263.28 L183.18,263.87 L184.20,264.47 L185.22,265.05 L186.24,265.63 L187.26,266.21 L188.28,266.78 L189.30,267.35 L190.32,267.91 L191.34,268.47 L192.36,269.03 L193.38,269.58 L194.40,270.13 L195.42,270.67 L196.44,271.21 L197.46,271.75 L198.48,272.28 L199.50,272.81 L200.52,273.33 L201.54,273.86 L202.56,274.38 L203.58,274.89 L204.60,275.41 L205.62,275.92 L206.64,276.43 L207.66,276.94 L208.68,277.44 L209.70,277.94 L210.72,278.44 L211.74,278.94 L212.76,279.44 L213.78,279.93 L214.80,280.43 L215.82,280.92 L216.84,281.41 L217.86,281.90 L218.88,282.38 L219.90,282.87 L220.92,283.36 L221.94,283.84 L222.96,284.32 L223.98,284.81 L225.00,285.29 L226.02,285.77 L227.04,286.25 L228.06,286.73 L229.08,287.21 L230.10,287.70 L231.12,288.18 L232.14,288.66 L233.16,289.14 L234.18,289.62 L235.20,290.10 L236.22,290.58 L237.24,291.07 L238.26,291.55 L239.28,292.04 L240.30,292.52 L241.32,293.01 L242.34,293.50 L243.36,293.99 L244.38,294.48 L245.40,294.97 L246.42,295.46 L247.44,295.96 L248.46,296.45 L249.48,296.95 L250.50,297.45 L251.52,297.96 L252.54,298.46 L253.56,298.97 L254.58,299.48 L255.60,299.99 L256.62,300.51 L257.64,301.03 L258.66,301.55 L259.68,302.07 L260.70,302.60 L261.72,303.13 L262.74,303.66 L263.76,304.20 L264.78,304.74 L265.80,305.28 L266.82,305.83 L267.84,306.38 L268.86,306.94 L269.88,307.50 L270.90,308.06 L271.92,308.63 L272.94,309.21 L273.96,309.78 L274.98,310.37 L276.00,310.95 L277.02,311.55 L278.04,312.14 L279.06,312.75 L280.08,313.35 L281.10,313.97 L282.12,314.59 L283.14,315.21 L284.16,315.84 L285.18,316.48 L286.20,317.12 L287.22,317.77 L288.24,318.42 L289.26,319.09 L290.28,319.76 L291.30,320.43 L292.32,321.11 L293.34,321.80 L294.36,322.50 L295.38,323.21 L296.40,323.92 L297.42,324.64 L298.44,325.37 L299.46,326.10 L300.48,326.85 L301.50,327.60 L302.52,328.36 L303.54,329.13 L304.56,329.91 L305.58,330.70 L306.60,331.49 L307.62,332.30 L308.64,333.12 L309.66,333.94 L310.68,334.78 L311.70,335.62 L312.72,336.48 L313.74,337.35 L314.76,338.22 L315.78,339.11 L316.80,340.01 L317.82,340.92 L318.84,341.84 L319.86,342.78 L320.88,343.72 L321.90,344.68 L322.92,345.65 L323.94,346.63 L324.96,347.63 L325.98,348.64 L327.00,349.66 L328.02,350.69 L329.04,351.74 L330.06,352.80 L331.08,353.88 L332.10,354.97 L333.12,356.07 L334.14,357.19 L335.16,358.33 L336.18,359.48 L337.20,360.64 L338.22,361.83 L339.24,363.02 L340.26,364.24 L341.28,365.47 L342.30,366.71 L343.32,367.98 L344.34,369.26 L345.36,370.56 L346.38,371.87 L347.40,373.21 L348.42,374.56 L349.44,375.93 L350.46,377.32 L351.48,378.74 L352.50,380.16 L353.52,381.61 L354.54,383.08 L355.56,384.58 L355.99,385.21" stroke="#0000ff" stroke-dasharray="3 2.75"/>
<path d="M46.50,308.87 L47.52,308.62 L48.54,308.37 L49.56,308.12 L50.58,307.89 L51.60,307.66 L52.62,307.43 L53.64,307.21 L54.66,307.00 L55.68,306.79 L56.70,306.59 L57.72,306.39 L58.74,306.20 L59.76,306.01 L60.78,305.83 L61.80,305.66 L62.82,305.49 L63.84,305.33 L64.86,305.17 L65.88,305.02 L66.90,304.87 L67.92,304.73 L68.94,304.60 L69.96,304.47 L70.98,304.34 L72.00,304.22 L73.02,304.11 L74.04,304.00 L75.06,303.90 L76.08,303.80 L77.10,303.70 L78.12,303.62 L79.14,303.53 L80.16,303.45 L81.18,303.38 L82.20,303.31 L83.22,303.25 L84.24,303.19 L85.26,303.14 L86.28,303.09 L87.30,303.05 L88.32,303.01 L89.34,302.98 L90.36,302.95 L91.38,302.92 L92.40,302.90 L93.42,302.89 L94.44,302.88 L95.46,302.87 L96.48,302.87 L97.50,302.87 L98.52,302.88 L99.54,302.89 L100.56,302.91 L101.58,302.93 L102.60,302.95 L103.62,302.98 L104.64,303.02 L105.66,303.05 L106.68,303.09 L107.70,303.14 L108.72,303.19 L109.74,303.24 L110.76,303.30 L111.78,303.36 L112.80,303.42 L113.82,303.49 L114.84,303.56 L115.86,303.64 L116.88,303.71 L117.90,303.80 L118.92,303.88 L119.94,303.97 L120.96,304.06 L121.98,304.16 L123.00,304.26 L124.02,304.36 L125.04,304.46 L126.06,304.57 L127.08,304.68 L128.10,304.80 L129.12,304.91 L130.14,305.03 L131.16,305.15 L132.18,305.28 L133.20,305.41 L134.22,305.54 L135.24,305.67 L136.26,305.80 L137.28,305.94 L138.30,306.08 L139.32,306.22 L140.34,306.37 L141.36,306.52 L142.38,306.67 L143.40,306.82 L144.42,306.97 L145.44,307.12 L146.46,307.28 L147.48,307.44 L148.50,307.60 L149.52,307.76 L150.54,307.93 L151.56,308.09 L152.58,308.26 L153.60,308.43 L154.62,308.60 L155.64,308.77 L156.66,308.94 L157.68,309.12 L158.70,309.29 L159.72,309.47 L160.74,309.65 L161.76,309.82 L162.78,310.00 L163.80,310.18 L164.82,310.37 L165.84,310.55 L166.86,310.73 L167.88,310.91 L168.90,311.10 L169.92,311.28 L170.94,311.47 L171.96,311.66 L172.98,311.84 L174.00,312.03 L175.02,312.22 L176.04,312.40 L177.06,312.59 L178.08,312.78 L179.10,312.97 L180.12,313.15 L181.14,313.34 L182.16,313.53 L183.18,313.72 L184.20,313.90 L185.22,314.09 L186.24,314.28 L187.26,314.47 L188.28,314.65 L189.30,314.84 L190.32,315.02 L191.34,315.21 L192.36,315.39 L193.38,315.58 L194.40,315.76 L195.42,315.95 L196.44,316.13 L197.46,316.31 L198.48,316.49 L199.50,316.67 L200.52,316.85 L201.54,317.03 L202.56,317.20 L203.58,317.38 L204.60,317.56 L205.62,317.73 L206.64,317.90 L207.66,318.08 L208.68,318.25 L209.70,318.42 L210.72,318.58 L211.74,318.75 L212.76,318.92 L213.78,319.08 L214.80,319.25 L215.82,319.41 L216.84,319.57 L217.86,319.73 L218.88,319.88 L219.90,320.04 L220.92,320.19 L221.94,320.35 L222.96,320.50 L223.98,320.65 L225.00,320.80 L226.02,320.94 L227.04,321.09 L228.06,321.23 L229.08,321.37 L230.10,321.51 L231.12,321.65 L232.14,321.79 L233.16,321.92 L234.18,322.06 L235.20,322.19 L236.22,322.32 L237.24,322.44 L238.26,322.57 L239.28,322.69 L240.30,322.82 L241.32,322.94 L242.34,323.06 L243.36,323.17 L244.38,323.29 L245.40,323.40 L246.42,323.51 L247.44,323.62 L248.46,323.73 L249.48,323.84 L250.50,323.94 L251.52,324.04 L252.54,324.14 L253.56,324.24 L254.58,324.34 L255.60,324.43 L256.62,324.52 L257.64,324.61 L258.66,324.70 L259.68,324.79 L260.70,324.88 L261.72,324.96 L262.74,325.04 L263.76,325.12 L264.78,325.20 L265.80,325.28 L266.82,325.35 L267.84,325.42 L268.86,325.50 L269.88,325.56 L270.90,325.63 L271.92,325.70 L272.94,325.76 L273.96,325.83 L274.98,325.89 L276.00,325.95 L277.02,326.01 L278.04,326.06 L279.06,326.12 L280.08,326.17 L281.10,326.22 L282.12,326.27 L283.14,326.32 L284.16,326.37 L285.18,326.41 L286.20,326.46 L287.22,326.50 L288.24,326.54 L289.26,326.58 L290.28,326.62 L291.30,326.66 L292.32,326.70 L293.34,326.73 L294.36,326.76 L295.38,326.80 L296.40,326.83 L297.42,326.86 L298.44,326.89 L299.46,326.91 L300.48,326.94 L301.50,326.96 L302.52,326.99 L303.54,327.01 L304.56,327.03 L305.58,327.05 L306.60,327.07 L307.62,327.09 L308.64,327.11 L309.66,327.12 L310.68,327.14 L311.70,327.15 L312.72,327.16 L313.74,327.17 L314.76,327.18 L315.78,327.19 L316.80,327.20 L317.82,327.21 L318.84,327.22 L319.86,327.22 L320.88,327.22 L321.90,327.23 L322.92,327.23 L323.94,327.23 L324.96,327.23 L325.98,327.23 L327.00,327.22 L328.02,327.22 L329.04,327.22 L330.06,327.21 L331.08,327.20 L332.10,327.19 L333.12,327.18 L334.14,327.17 L335.16,327.16 L336.18,327.14 L337.20,327.13 L338.22,327.11 L339.24,327.09 L340.26,327.07 L341.28,327.05 L342.30,327.02 L343.32,327.00 L344.34,326.97 L345.36,326.94 L346.38,326.90 L347.40,326.87 L348.42,326.83 L349.44,326.79 L350.46,326.75 L351.48,326.71 L352.50,326.66 L353.52,326.61 L354.54,326.56 L355.56,326.51 L356.58,326.45 L357.60,326.39 L358.62,326.32 L359.64,326.25 L360.66,326.18 L361.68,326.10 L362.70,326.02 L363.72,325.94 L364.74,325.85 L365.76,325.76 L366.78,325.66 L367.80,325.56 L368.82,325.45 L369.84,325.34 L370.86,325.22 L371.88,325.10 L372.90,324.97 L373.92,324.83 L374.94,324.69 L375.96,324.54 L376.98,324.38 L378.00,324.22 L379.02,324.05 L380.04,323.87 L381.06,323.69 L382.08,323.49 L383.10,323.29" stroke="#0000ff" stroke-dasharray="3 2.75"/>
<path d="M46.50,82.13 L47.52,84.69 L48.54,87.22 L49.56,89.73 L50.58,92.22 L51.60,94.68 L52.62,97.12 L53.64,99.53 L54.66,101.92 L55.68,104.28 L56.70,106.62 L57.72,108.94 L58.74,111.24 L59.76,113.51 L60.78,115.76 L61.80,117.98 L62.82,120.18 L63.84,122.37 L64.86,124.52 L65.88,126.66 L66.90,128.77 L67.92,130.87 L68.94,132.94 L69.96,134.99 L70.98,137.01 L72.00,139.02 L73.02,141.01 L74.04,142.97 L75.06,144.92 L76.08,146.84 L77.10,148.74 L78.12,150.63 L79.14,152.49 L80.16,154.33 L81.18,156.16 L82.20,157.96 L83.22,159.75 L84.24,161.51 L85.26,163.26 L86.28,164.98 L87.30,166.69 L88.32,168.38 L89.34,170.05 L90.36,171.71 L91.38,173.34 L92.40,174.96 L93.42,176.56 L94.44,178.14 L95.46,179.71 L96.48,181.25 L97.50,182.78 L98.52,184.29 L99.54,185.79 L100.56,187.27 L101.58,188.73 L102.60,190.17 L103.62,191.60 L104.64,193.01 L105.66,194.41 L106.68,195.79 L107.70,197.16 L108.72,198.51 L109.74,199.84 L110.76,201.16 L111.78,202.46 L112.80,203.75 L113.82,205.02 L114.84,206.28 L115.86,207.52 L116.88,208.75 L117.90,209.96 L118.92,211.16 L119.94,212.35 L120.96,213.52 L121.98,214.68 L123.00,215.83 L124.02,216.96 L125.04,218.08 L126.06,219.18 L127.08,220.27 L128.10,221.35 L129.12,222.42 L130.14,223.47 L131.16,224.51 L132.18,225.54 L133.20,226.55 L134.22,227.56 L135.24,228.55 L136.26,229.53 L137.28,230.50 L138.30,231.45 L139.32,232.40 L140.34,233.33 L141.36,234.25 L142.38,235.17 L143.40,236.07 L144.42,236.96 L145.44,237.84 L146.46,238.70 L147.48,239.56 L148.50,240.41 L149.52,241.25 L150.54,242.08 L151.56,242.90 L152.58,243.70 L153.60,244.50 L154.62,245.29 L155.64,246.07 L156.66,246.85 L157.68,247.61 L158.70,248.36 L159.72,249.11 L160.74,249.84 L161.76,250.57 L162.78,251.29 L163.80,252.00 L164.82,252.70 L165.84,253.39 L166.86,254.08 L167.88,254.76 L168.90,255.43 L169.92,256.09 L170.94,256.75 L171.96,257.40 L172.98,258.04 L174.00,258.67 L175.02,259.30 L176.04,259.91 L177.06,260.53 L178.08,261.13 L179.10,261.73 L180.12,262.32 L181.14,262.91 L182.16,263.49 L183.18,264.06 L184.20,264.62 L185.22,265.18 L186.24,265.74 L187.26,266.28 L188.28,266.82 L189.30,267.36 L190.32,267.89 L191.34,268.41 L192.36,268.93 L193.38,269.44 L194.40,269.95 L195.42,270.45 L196.44,270.94 L197.46,271.43 L198.48,271.91 L199.50,272.39 L200.52,272.86 L201.54,273.33 L202.56,273.79 L203.58,274.25 L204.60,274.70 L205.62,275.14 L206.64,275.58 L207.66,276.02 L208.68,276.45 L209.70,276.87 L210.72,277.29 L211.74,277.70 L212.76,278.11 L213.78,278.51 L214.80,278.91 L215.82,279.30 L216.84,279.69 L217.86,280.07 L218.88,280.44 L219.90,280.81 L220.92,281.17 L221.94,281.53 L222.96,281.88 L223.98,282.23 L225.00,282.57 L226.02,282.90 L227.04,283.23 L228.06,283.55 L229.08,283.87 L230.10,284.18 L231.12,284.48 L232.14,284.78 L233.16,285.07 L234.18,285.36 L235.20,285.63 L236.22,285.90 L237.24,286.17 L238.26,286.43 L239.28,286.68 L240.30,286.92 L241.32,287.15 L242.34,287.38 L243.36,287.60 L244.38,287.82 L245.40,288.02 L246.42,288.22 L247.44,288.41 L248.46,288.59 L249.48,288.76 L250.50,288.93 L251.52,289.08 L252.54,289.23 L253.56,289.37 L254.58,289.49 L255.60,289.61 L256.62,289.72 L257.64,289.82 L258.66,289.91 L259.68,289.99 L260.70,290.06 L261.72,290.12 L262.74,290.17 L263.76,290.21 L264.78,290.24 L265.80,290.26 L266.82,290.26 L267.84,290.26 L268.86,290.24 L269.88,290.21 L270.90,290.17 L271.92,290.11 L272.94,290.05 L273.96,289.97 L274.98,289.87 L276.00,289.77 L277.02,289.65 L278.04,289.52 L279.06,289.37 L280.08,289.21 L281.10,289.04 L282.12,288.85 L283.14,288.64 L284.16,288.43 L285.18,288.19 L286.20,287.94 L287.22,287.68 L288.24,287.40 L289.26,287.10 L290.28,286.79 L291.30,286.46 L292.32,286.11 L293.34,285.75 L294.36,285.37 L295.38,284.97 L296.40,284.56 L297.42,284.12 L298.44,283.67 L299.46,283.20 L300.48,282.71 L301.50,282.20 L302.52,281.67 L303.54,281.13 L304.56,280.56 L305.58,279.97 L306.60,279.37 L307.62,278.74 L308.64,278.09 L309.66,277.42 L310.68,276.73 L311.70,276.01 L312.72,275.28 L313.74,274.52 L314.76,273.74 L315.78,272.94 L316.80,272.11 L317.82,271.26 L318.84,270.39 L319.86,269.49 L320.88,268.57 L321.90,267.63 L322.92,266.66 L323.94,265.66 L324.96,264.64 L325.98,263.59 L327.00,262.52 L328.02,261.41 L329.04,260.29 L330.06,259.13 L331.08,257.95 L332.10,256.74 L333.12,255.49 L334.14,254.23 L335.16,252.93 L336.18,251.60 L337.20,250.24 L338.22,248.85 L339.24,247.43 L340.26,245.97 L341.28,244.49 L342.30,242.97 L343.32,241.42 L344.34,239.84 L345.36,238.22 L346.38,236.56 L347.40,234.87 L348.42,233.15 L349.44,231.38 L350.46,229.58 L351.48,227.75 L352.50,225.87 L353.52,223.95 L354.54,222.00 L355.56,220.00 L356.58,217.96 L357.60,215.88 L358.62,213.75 L359.64,211.58 L360.66,209.36 L361.68,207.10 L362.70,204.79 L363.72,202.44 L364.74,200.03 L365.76,197.57 L366.78,195.06 L367.80,192.50 L368.82,189.88 L369.84,187.21 L370.86,184.48 L371.88,181.70 L372.90,178.85 L373.92,175.94 L374.94,172.97 L375.96,169.94 L376.98,166.84 L378.00,163.67 L379.02,160.44 L380.04,157.13 L381.06,153.75 L382.08,150.29 L383.10,146.76" stroke="#00ff00" stroke-dasharray="16.6 6.7 16.6 6 2.4 6" stroke-dashoffset="2.4"/>
<path d="M46.50,308.87 L47.52,308.62 L48.54,308.37 L49.56,308.12 L50.58,307.89 L51.60,307.66 L52.62,307.43 L53.64,307.21 L54.66,307.00 L55.68,306.79 L56.70,306.59 L57.72,306.39 L58.74,306.20 L59.76,306.02 L60.78,305.84 L61.80,305.67 L62.82,305.50 L63.84,305.34 L64.86,305.18 L65.88,305.03 L66.90,304.89 L67.92,304.75 L68.94,304.61 L69.96,304.48 L70.98,304.36 L72.00,304.24 L73.02,304.13 L74.04,304.02 L75.06,303.92 L76.08,303.82 L77.10,303.73 L78.12,303.65 L79.14,303.56 L80.16,303.49 L81.18,303.42 L82.20,303.35 L83.22,303.29 L84.24,303.23 L85.26,303.18 L86.28,303.14 L87.30,303.10 L88.32,303.06 L89.34,303.03 L90.36,303.00 L91.38,302.98 L92.40,302.96 L93.42,302.95 L94.44,302.94 L95.46,302.93 L96.48,302.93 L97.50,302.94 L98.52,302.95 L99.54,302.96 L100.56,302.98 L101.58,303.00 L102.60,303.03 L103.62,303.06 L104.64,303.09 L105.66,303.13 L106.68,303.18 L107.70,303.22 L108.72,303.27 L109.74,303.33 L110.76,303.39 L111.78,303.45 L112.80,303.52 L113.82,303.59 L114.84,303.66 L115.86,303.74 L116.88,303.82 L117.90,303.90 L118.92,303.99 L119.94,304.08 L120.96,304.17 L121.98,304.27 L123.00,304.37 L124.02,304.48 L125.04,304.58 L126.06,304.69 L127.08,304.81 L128.10,304.92 L129.12,305.04 L130.14,305.16 L131.16,305.29 L132.18,305.42 L133.20,305.54 L134.22,305.68 L135.24,305.81 L136.26,305.95 L137.28,306.09 L138.30,306.23 L139.32,306.38 L140.34,306.52 L141.36,306.67 L142.38,306.82 L143.40,306.98 L144.42,307.13 L145.44,307.29 L146.46,307.45 L147.48,307.61 L148.50,307.77 L149.52,307.94 L150.54,308.10 L151.56,308.27 L152.58,308.44 L153.60,308.61 L154.62,308.78 L155.64,308.96 L156.66,309.13 L157.68,309.31 L158.70,309.49 L159.72,309.67 L160.74,309.85 L161.76,310.03 L162.78,310.21 L163.80,310.40 L164.82,310.58 L165.84,310.77 L166.86,310.96 L167.88,311.14 L168.90,311.33 L169.92,311.53 L170.94,311.72 L171.96,311.91 L172.98,312.10 L174.00,312.30 L175.02,312.49 L176.04,312.69 L177.06,312.89 L178.08,313.09 L179.10,313.29 L180.12,313.49 L181.14,313.69 L182.16,313.89 L183.18,314.10 L184.20,314.30 L185.22,314.51 L186.24,314.71 L187.26,314.92 L188.28,315.13 L189.30,315.34 L190.32,315.56 L191.34,315.77 L192.36,315.98 L193.38,316.20 L194.40,316.42 L195.42,316.64 L196.44,316.86 L197.46,317.08 L198.48,317.30 L199.50,317.53 L200.52,317.76 L201.54,317.99 L202.56,318.22 L203.58,318.46 L204.60,318.69 L205.62,318.93 L206.64,319.17 L207.66,319.42 L208.68,319.67 L209.70,319.92 L210.72,320.17 L211.74,320.43 L212.76,320.69 L213.78,320.95 L214.80,321.22 L215.82,321.49 L216.84,321.76 L217.86,322.04 L218.88,322.33 L219.90,322.61 L220.92,322.91 L221.94,323.20 L222.96,323.51 L223.98,323.81 L225.00,324.13 L226.02,324.44 L227.04,324.77 L228.06,325.10 L229.08,325.43 L230.10,325.77 L231.12,326.12 L232.14,326.48 L233.16,326.84 L234.18,327.21 L235.20,327.59 L236.22,327.97 L237.24,328.37 L238.26,328.77 L239.28,329.18 L240.30,329.59 L241.32,330.02 L242.34,330.46 L243.36,330.90 L244.38,331.36 L245.40,331.82 L246.42,332.29 L247.44,332.78 L248.46,333.28 L249.48,333.78 L250.50,334.30 L251.52,334.83 L252.54,335.37 L253.56,335.92 L254.58,336.49 L255.60,337.06 L256.62,337.66 L257.64,338.26 L258.66,338.88 L259.68,339.51 L260.70,340.15 L261.72,340.81 L262.74,341.48 L263.76,342.17 L264.78,342.87 L265.80,343.59 L266.82,344.32 L267.84,345.07 L268.86,345.83 L269.88,346.61 L270.90,347.41 L271.92,348.22 L272.94,349.05 L273.96,349.90 L274.98,350.77 L276.00,351.65 L277.02,352.55 L278.04,353.47 L279.06,354.41 L280.08,355.36 L281.10,356.34 L282.12,357.33 L283.14,358.35 L284.16,359.38 L285.18,360.43 L286.20,361.51 L287.22,362.60 L288.24,363.72 L289.26,364.85 L290.28,366.01 L291.30,367.18 L292.32,368.38 L293.34,369.60 L294.36,370.84 L295.38,372.10 L296.40,373.39 L297.42,374.69 L298.44,376.02 L299.46,377.37 L300.48,378.75 L301.50,380.14 L302.52,381.56 L303.54,383.00 L304.56,384.47 L305.07,385.21" stroke="#00ff00" stroke-dasharray="16.6 6.7 16.6 6 2.4 6" stroke-dashoffset="1.6"/>
<path d="M46.50,82.13 L47.52,84.69 L48.54,87.22 L49.56,89.73 L50.58,92.22 L51.60,94.68 L52.62,97.12 L53.64,99.53 L54.66,101.92 L55.68,104.28 L56.70,106.62 L57.72,108.94 L58.74,111.24 L59.76,113.51 L60.78,115.76 L61.80,117.98 L62.82,120.18 L63.84,122.36 L64.86,124.52 L65.88,126.66 L66.90,128.77 L67.92,130.86 L68.94,132.93 L69.96,134.98 L70.98,137.01 L72.00,139.01 L73.02,141.00 L74.04,142.96 L75.06,144.90 L76.08,146.83 L77.10,148.73 L78.12,150.61 L79.14,152.47 L80.16,154.31 L81.18,156.14 L82.20,157.94 L83.22,159.72 L84.24,161.49 L85.26,163.23 L86.28,164.96 L87.30,166.66 L88.32,168.35 L89.34,170.02 L90.36,171.67 L91.38,173.31 L92.40,174.92 L93.42,176.52 L94.44,178.10 L95.46,179.66 L96.48,181.21 L97.50,182.74 L98.52,184.25 L99.54,185.74 L100.56,187.22 L101.58,188.68 L102.60,190.12 L103.62,191.55 L104.64,192.96 L105.66,194.36 L106.68,195.74 L107.70,197.10 L108.72,198.45 L109.74,199.78 L110.76,201.10 L111.78,202.40 L112.80,203.69 L113.82,204.96 L114.84,206.22 L115.86,207.47 L116.88,208.70 L117.90,209.91 L118.92,211.11 L119.94,212.30 L120.96,213.47 L121.98,214.63 L123.00,215.78 L124.02,216.91 L125.04,218.03 L126.06,219.13 L127.08,220.23 L128.10,221.31 L129.12,222.37 L130.14,223.43 L131.16,224.47 L132.18,225.50 L133.20,226.52 L134.22,227.52 L135.24,228.51 L136.26,229.50 L137.28,230.47 L138.30,231.42 L139.32,232.37 L140.34,233.30 L141.36,234.23 L142.38,235.14 L143.40,236.04 L144.42,236.93 L145.44,237.81 L146.46,238.68 L147.48,239.54 L148.50,240.39 L149.52,241.22 L150.54,242.05 L151.56,242.87 L152.58,243.67 L153.60,244.47 L154.62,245.26 L155.64,246.04 L156.66,246.80 L157.68,247.56 L158.70,248.31 L159.72,249.05 L160.74,249.78 L161.76,250.50 L162.78,251.21 L163.80,251.92 L164.82,252.61 L165.84,253.30 L166.86,253.97 L167.88,254.64 L168.90,255.30 L169.92,255.95 L170.94,256.60 L171.96,257.23 L172.98,257.86 L174.00,258.48 L175.02,259.09 L176.04,259.69 L177.06,260.29 L178.08,260.88 L179.10,261.46 L180.12,262.03 L181.14,262.60 L182.16,263.16 L183.18,263.71 L184.20,264.25 L185.22,264.79 L186.24,265.32 L187.26,265.84 L188.28,266.36 L189.30,266.87 L190.32,267.37 L191.34,267.87 L192.36,268.36 L193.38,268.84 L194.40,269.32 L195.42,269.79 L196.44,270.25 L197.46,270.71 L198.48,271.17 L199.50,271.61 L200.52,272.05 L201.54,272.49 L202.56,272.91 L203.58,273.34 L204.60,273.76 L205.62,274.17 L206.64,274.57 L207.66,274.97 L208.68,275.37 L209.70,275.76 L210.72,276.14 L211.74,276.52 L212.76,276.90 L213.78,277.26 L214.80,277.63 L215.82,277.99 L216.84,278.34 L217.86,278.69 L218.88,279.03 L219.90,279.37 L220.92,279.71 L221.94,280.04 L222.96,280.36 L223.98,280.69 L225.00,281.00 L226.02,281.31 L227.04,281.62 L228.06,281.92 L229.08,282.22 L230.10,282.52 L231.12,282.81 L232.14,283.09 L233.16,283.38 L234.18,283.65 L235.20,283.93 L236.22,284.20 L237.24,284.46 L238.26,284.73 L239.28,284.98 L240.30,285.24 L241.32,285.49 L242.34,285.74 L243.36,285.98 L244.38,286.22 L245.40,286.46 L246.42,286.69 L247.44,286.92 L248.46,287.15 L249.48,287.37 L250.50,287.59 L251.52,287.80 L252.54,288.02 L253.56,288.23 L254.58,288.43 L255.60,288.63 L256.62,288.83 L257.64,289.03 L258.66,289.22 L259.68,289.42 L260.70,289.60 L261.72,289.79 L262.74,289.97 L263.76,290.15 L264.78,290.32 L265.80,290.50 L266.82,290.67 L267.84,290.84 L268.86,291.00 L269.88,291.16 L270.90,291.32 L271.92,291.48 L272.94,291.64 L273.96,291.79 L274.98,291.94 L276.00,292.08 L277.02,292.23 L278.04,292.37 L279.06,292.51 L280.08,292.65 L281.10,292.78 L282.12,292.91 L283.14,293.04 L284.16,293.17 L285.18,293.30 L286.20,293.42 L287.22,293.54 L288.24,293.66 L289.26,293.78 L290.28,293.89 L291.30,294.01 L292.32,294.12 L293.34,294.23 L294.36,294.33 L295.38,294.44 L296.40,294.54 L297.42,294.64 L298.44,294.74 L299.46,294.84 L300.48,294.93 L301.50,295.03 L302.52,295.12 L303.54,295.21 L304.56,295.30 L305.58,295.38 L306.60,295.47 L307.62,295.55 L308.64,295.63 L309.66,295.71 L310.68,295.79 L311.70,295.86 L312.72,295.94 L313.74,296.01 L314.76,296.08 L315.78,296.15 L316.80,296.22 L317.82,296.29 L318.84,296.35 L319.86,296.42 L320.88,296.48 L321.90,296.54 L322.92,296.60 L323.94,296.66 L324.96,296.71 L325.98,296.77 L327.00,296.82 L328.02,296.87 L329.04,296.93 L330.06,296.98 L331.08,297.02 L332.10,297.07 L333.12,297.12 L334.14,297.16 L335.16,297.21 L336.18,297.25 L337.20,297.29 L338.22,297.33 L339.24,297.37 L340.26,297.41 L341.28,297.44 L342.30,297.48 L343.32,297.51 L344.34,297.55 L345.36,297.58 L346.38,297.61 L347.40,297.64 L348.42,297.67 L349.44,297.70 L350.46,297.72 L351.48,297.75 L352.50,297.77 L353.52,297.80 L354.54,297.82 L355.56,297.84 L356.58,297.86 L357.60,297.88 L358.62,297.90 L359.64,297.92 L360.66,297.94 L361.68,297.96 L362.70,297.97 L363.72,297.99 L364.74,298.00 L365.76,298.01 L366.78,298.03 L367.80,298.04 L368.82,298.05 L369.84,298.06 L370.86,298.07 L371.88,298.08 L372.90,298.08 L373.92,298.09 L374.94,298.10 L375.96,298.10 L376.98,298.11 L378.00,298.11 L379.02,298.11 L380.04,298.12 L381.06,298.12 L382.08,298.12 L383.10,298.12 L384.12,298.12 L385.14,298.12 L386.16,298.12 L387.18,298.12 L388.20,298.11 L389.22,298.11 L390.24,298.11 L391.26,298.10 L392.28,298.10 L393.30,298.09 L394.32,298.09 L395.34,298.08 L396.36,298.07 L397.38,298.06 L398.40,298.06 L399.42,298.05 L400.44,298.04 L401.46,298.03 L402.48,298.02 L403.50,298.01 L404.52,298.00 L405.54,297.98 L406.56,297.97 L407.58,297.96 L408.60,297.94 L409.62,297.93 L410.64,297.92 L411.66,297.90 L412.68,297.89 L413.70,297.87 L414.72,297.85 L415.74,297.84 L416.76,297.82 L417.78,297.80 L418.80,297.79 L419.82,297.77 L420.84,297.75 L421.86,297.73 L422.88,297.71 L423.90,297.69 L424.92,297.67 L425.94,297.65 L426.96,297.63 L427.98,297.61 L429.00,297.59 L430.02,297.57 L431.04,297.54 L432.06,297.52 L433.08,297.50 L434.10,297.48 L435.12,297.45 L436.14,297.43 L437.16,297.41 L438.18,297.38 L439.20,297.36 L440.22,297.33 L441.24,297.31 L442.26,297.28 L443.28,297.26 L444.30,297.23 L445.32,297.20 L446.34,297.18 L447.36,297.15 L448.38,297.12 L449.40,297.10 L450.42,297.07 L451.44,297.04 L452.46,297.01 L453.48,296.98 L454.50,296.95 L455.52,296.93 L456.54,296.90 L457.56,296.87 L458.58,296.84 L459.60,296.81 L460.62,296.78 L461.64,296.75 L462.66,296.72 L463.68,296.69 L464.70,296.66 L465.72,296.63 L466.74,296.60 L467.76,296.57 L468.78,296.53 L469.80,296.50 L470.82,296.47 L471.84,296.44 L472.86,296.41 L473.88,296.37 L474.90,296.34 L475.92,296.31 L476.94,296.28 L477.96,296.24 L478.98,296.21 L480.00,296.18 L481.02,296.15 L482.04,296.11 L483.06,296.08 L484.08,296.04 L485.10,296.01 L486.12,295.98 L487.14,295.94 L488.16,295.91 L489.18,295.87 L490.20,295.84 L491.22,295.81 L492.24,295.77 L493.26,295.74 L494.28,295.70 L495.30,295.67 L496.32,295.63 L497.34,295.60 L498.36,295.56 L499.38,295.53 L500.40,295.49 L501.42,295.46 L502.44,295.42 L503.46,295.39 L504.48,295.35 L505.50,295.31 L506.52,295.28 L507.54,295.24 L508.56,295.21 L509.58,295.17 L510.60,295.13 L511.62,295.10 L512.64,295.06 L513.66,295.03 L514.68,294.99 L515.70,294.95 L516.72,294.92 L517.74,294.88 L518.76,294.84 L519.78,294.81 L520.80,294.77 L521.82,294.73 L522.84,294.70 L523.86,294.66 L524.88,294.62 L525.90,294.59 L526.92,294.55 L527.94,294.51 L528.96,294.48 L529.98,294.44 L531.00,294.40 L532.02,294.36 L533.04,294.33 L534.06,294.29 L535.08,294.25 L536.10,294.22 L537.12,294.18 L538.14,294.14 L539.16,294.10 L540.18,294.07 L541.20,294.03 L542.22,293.99 L543.24,293.96 L544.26,293.92 L545.28,293.88 L546.30,293.84 L547.32,293.81 L548.34,293.77 L549.36,293.73 L550.38,293.69 L551.40,293.66 L552.42,293.62 L553.44,293.58 L554.46,293.54 L555.48,293.51 L556.50,293.47 L557.52,293.43 L558.54,293.40 L559.56,293.36 L560.58,293.32 L561.60,293.28 L562.62,293.25 L563.64,293.21 L564.66,293.17 L565.68,293.14 L566.70,293.10 L567.72,293.06 L568.74,293.02 L569.76,292.99 L570.78,292.95 L571.80,292.91 L572.82,292.88 L573.84,292.84 L574.86,292.80 L575.88,292.76 L576.90,292.73 L577.92,292.69 L578.94,292.65 L579.96,292.62 L580.98,292.58 L582.00,292.54 L583.02,292.51 L584.04,292.47 L585.06,292.43 L586.08,292.40 L587.10,292.36 L588.12,292.32 L589.14,292.29 L590.16,292.25 L591.18,292.21 L592.20,292.18 L593.22,292.14 L594.24,292.10 L595.26,292.07 L596.28,292.03 L597.30,292.00 L598.32,291.96 L599.34,291.92 L600.36,291.89 L601.38,291.85 L602.40,291.81 L603.42,291.78 L604.44,291.74 L605.46,291.71 L606.48,291.67 L607.50,291.64 L608.52,291.60 L609.54,291.56 L610.56,291.53 L611.58,291.49 L612.60,291.46 L613.62,291.42 L614.64,291.39 L615.66,291.35 L616.68,291.32 L617.70,291.28 L618.72,291.24 L619.74,291.21 L620.76,291.17 L621.78,291.14 L622.80,291.10 L623.82,291.07 L624.84,291.03 L625.86,291.00 L626.88,290.97 L627.90,290.93 L628.92,290.90 L629.94,290.86 L630.96,290.83 L631.98,290.79 L633.00,290.76 L634.02,290.72 L635.04,290.69 L636.06,290.65 L637.08,290.62 L638.10,290.59 L639.12,290.55 L640.14,290.52 L641.16,290.48 L642.18,290.45 L643.20,290.42 L644.22,290.38 L645.24,290.35 L646.26,290.32 L647.28,290.28 L648.30,290.25 L649.32,290.21 L650.34,290.18 L651.36,290.15 L652.38,290.11 L653.40,290.08 L654.42,290.05 L655.44,290.02 L656.46,289.98 L657.48,289.95 L658.50,289.92" stroke="#000000" stroke-dasharray="6.7 2.5" stroke-dashoffset="-0.9"/>
<path d="M46.50,308.87 L47.52,308.62 L48.54,308.37 L49.56,308.12 L50.58,307.89 L51.60,307.66 L52.62,307.43 L53.64,307.21 L54.66,307.00 L55.68,306.79 L56.70,306.59 L57.72,306.39 L58.74,306.20 L59.76,306.02 L60.78,305.84 L61.80,305.67 L62.82,305.50 L63.84,305.34 L64.86,305.18 L65.88,305.03 L66.90,304.89 L67.92,304.75 L68.94,304.62 L69.96,304.49 L70.98,304.37 L72.00,304.25 L73.02,304.14 L74.04,304.03 L75.06,303.93 L76.08,303.83 L77.10,303.74 L78.12,303.66 L79.14,303.58 L80.16,303.50 L81.18,303.43 L82.20,303.37 L83.22,303.31 L84.24,303.26 L85.26,303.21 L86.28,303.16 L87.30,303.12 L88.32,303.09 L89.34,303.05 L90.36,303.03 L91.38,303.01 L92.40,302.99 L93.42,302.98 L94.44,302.97 L95.46,302.97 L96.48,302.97 L97.50,302.98 L98.52,302.99 L99.54,303.00 L100.56,303.02 L101.58,303.04 L102.60,303.07 L103.62,303.10 L104.64,303.13 L105.66,303.17 L106.68,303.21 L107.70,303.26 L108.72,303.31 L109.74,303.36 L110.76,303.42 L111.78,303.48 L112.80,303.55 L113.82,303.62 L114.84,303.69 L115.86,303.76 L116.88,303.84 L117.90,303.93 L118.92,304.01 L119.94,304.10 L120.96,304.19 L121.98,304.29 L123.00,304.38 L124.02,304.49 L125.04,304.59 L126.06,304.70 L127.08,304.81 L128.10,304.92 L129.12,305.04 L130.14,305.15 L131.16,305.28 L132.18,305.40 L133.20,305.53 L134.22,305.66 L135.24,305.79 L136.26,305.92 L137.28,306.06 L138.30,306.20 L139.32,306.34 L140.34,306.48 L141.36,306.63 L142.38,306.78 L143.40,306.93 L144.42,307.08 L145.44,307.23 L146.46,307.39 L147.48,307.55 L148.50,307.71 L149.52,307.87 L150.54,308.03 L151.56,308.20 L152.58,308.37 L153.60,308.54 L154.62,308.71 L155.64,308.88 L156.66,309.06 L157.68,309.23 L158.70,309.41 L159.72,309.59 L160.74,309.77 L161.76,309.95 L162.78,310.13 L163.80,310.32 L164.82,310.51 L165.84,310.69 L166.86,310.88 L167.88,311.07 L168.90,311.26 L169.92,311.46 L170.94,311.65 L171.96,311.84 L172.98,312.04 L174.00,312.24 L175.02,312.43 L176.04,312.63 L177.06,312.83 L178.08,313.03 L179.10,313.23 L180.12,313.44 L181.14,313.64 L182.16,313.84 L183.18,314.05 L184.20,314.25 L185.22,314.46 L186.24,314.67 L187.26,314.87 L188.28,315.08 L189.30,315.29 L190.32,315.50 L191.34,315.71 L192.36,315.92 L193.38,316.13 L194.40,316.34 L195.42,316.56 L196.44,316.77 L197.46,316.98 L198.48,317.19 L199.50,317.41 L200.52,317.62 L201.54,317.84 L202.56,318.05 L203.58,318.27 L204.60,318.48 L205.62,318.70 L206.64,318.91 L207.66,319.13 L208.68,319.34 L209.70,319.56 L210.72,319.78 L211.74,319.99 L212.76,320.21 L213.78,320.43 L214.80,320.64 L215.82,320.86 L216.84,321.08 L217.86,321.29 L218.88,321.51 L219.90,321.73 L220.92,321.94 L221.94,322.16 L222.96,322.38 L223.98,322.59 L225.00,322.81 L226.02,323.03 L227.04,323.24 L228.06,323.46 L229.08,323.68 L230.10,323.89 L231.12,324.11 L232.14,324.32 L233.16,324.54 L234.18,324.76 L235.20,324.97 L236.22,325.19 L237.24,325.40 L238.26,325.62 L239.28,325.83 L240.30,326.04 L241.32,326.26 L242.34,326.47 L243.36,326.68 L244.38,326.90 L245.40,327.11 L246.42,327.32 L247.44,327.53 L248.46,327.75 L249.48,327.96 L250.50,328.17 L251.52,328.38 L252.54,328.59 L253.56,328.80 L254.58,329.01 L255.60,329.22 L256.62,329.43 L257.64,329.63 L258.66,329.84 L259.68,330.05 L260.70,330.26 L261.72,330.46 L262.74,330.67 L263.76,330.87 L264.78,331.08 L265.80,331.28 L266.82,331.49 L267.84,331.69 L268.86,331.90 L269.88,332.10 L270.90,332.30 L271.92,332.50 L272.94,332.70 L273.96,332.90 L274.98,333.10 L276.00,333.30 L277.02,333.50 L278.04,333.70 L279.06,333.90 L280.08,334.10 L281.10,334.30 L282.12,334.49 L283.14,334.69 L284.16,334.88 L285.18,335.08 L286.20,335.27 L287.22,335.47 L288.24,335.66 L289.26,335.85 L290.28,336.04 L291.30,336.24 L292.32,336.43 L293.34,336.62 L294.36,336.81 L295.38,337.00 L296.40,337.19 L297.42,337.37 L298.44,337.56 L299.46,337.75 L300.48,337.93 L301.50,338.12 L302.52,338.31 L303.54,338.49 L304.56,338.67 L305.58,338.86 L306.60,339.04 L307.62,339.22 L308.64,339.40 L309.66,339.58 L310.68,339.77 L311.70,339.94 L312.72,340.12 L313.74,340.30 L314.76,340.48 L315.78,340.66 L316.80,340.83 L317.82,341.01 L318.84,341.19 L319.86,341.36 L320.88,341.54 L321.90,341.71 L322.92,341.88 L323.94,342.05 L324.96,342.23 L325.98,342.40 L327.00,342.57 L328.02,342.74 L329.04,342.91 L330.06,343.08 L331.08,343.24 L332.10,343.41 L333.12,343.58 L334.14,343.75 L335.16,343.91 L336.18,344.08 L337.20,344.24 L338.22,344.40 L339.24,344.57 L340.26,344.73 L341.28,344.89 L342.30,345.05 L343.32,345.21 L344.34,345.37 L345.36,345.53 L346.38,345.69 L347.40,345.85 L348.42,346.01 L349.44,346.17 L350.46,346.32 L351.48,346.48 L352.50,346.63 L353.52,346.79 L354.54,346.94 L355.56,347.10 L356.58,347.25 L357.60,347.40 L358.62,347.55 L359.64,347.70 L360.66,347.85 L361.68,348.00 L362.70,348.15 L363.72,348.30 L364.74,348.45 L365.76,348.60 L366.78,348.74 L367.80,348.89 L368.82,349.04 L369.84,349.18 L370.86,349.33 L371.88,349.47 L372.90,349.61 L373.92,349.76 L374.94,349.90 L375.96,350.04 L376.98,350.18 L378.00,350.32 L379.02,350.46 L380.04,350.60 L381.06,350.74 L382.08,350.88 L383.10,351.02 L384.12,351.15 L385.14,351.29 L386.16,351.43 L387.18,351.56 L388.20,351.70 L389.22,351.83 L390.24,351.97 L391.26,352.10 L392.28,352.23 L393.30,352.36 L394.32,352.50 L395.34,352.63 L396.36,352.76 L397.38,352.89 L398.40,353.02 L399.42,353.15 L400.44,353.27 L401.46,353.40 L402.48,353.53 L403.50,353.66 L404.52,353.78 L405.54,353.91 L406.56,354.03 L407.58,354.16 L408.60,354.28 L409.62,354.40 L410.64,354.53 L411.66,354.65 L412.68,354.77 L413.70,354.89 L414.72,355.01 L415.74,355.14 L416.76,355.26 L417.78,355.37 L418.80,355.49 L419.82,355.61 L420.84,355.73 L421.86,355.85 L422.88,355.96 L423.90,356.08 L424.92,356.20 L425.94,356.31 L426.96,356.43 L427.98,356.54 L429.00,356.66 L430.02,356.77 L431.04,356.88 L432.06,356.99 L433.08,357.11 L434.10,357.22 L435.12,357.33 L436.14,357.44 L437.16,357.55 L438.18,357.66 L439.20,357.77 L440.22,357.88 L441.24,357.99 L442.26,358.09 L443.28,358.20 L444.30,358.31 L445.32,358.41 L446.34,358.52 L447.36,358.63 L448.38,358.73 L449.40,358.84 L450.42,358.94 L451.44,359.04 L452.46,359.15 L453.48,359.25 L454.50,359.35 L455.52,359.45 L456.54,359.56 L457.56,359.66 L458.58,359.76 L459.60,359.86 L460.62,359.96 L461.64,360.06 L462.66,360.16 L463.68,360.25 L464.70,360.35 L465.72,360.45 L466.74,360.55 L467.76,360.64 L468.78,360.74 L469.80,360.84 L470.82,360.93 L471.84,361.03 L472.86,361.12 L473.88,361.22 L474.90,361.31 L475.92,361.40 L476.94,361.50 L477.96,361.59 L478.98,361.68 L480.00,361.77 L481.02,361.86 L482.04,361.96 L483.06,362.05 L484.08,362.14 L485.10,362.23 L486.12,362.32 L487.14,362.41 L488.16,362.49 L489.18,362.58 L490.20,362.67 L491.22,362.76 L492.24,362.85 L493.26,362.93 L494.28,363.02 L495.30,363.10 L496.32,363.19 L497.34,363.28 L498.36,363.36 L499.38,363.45 L500.40,363.53 L501.42,363.61 L502.44,363.70 L503.46,363.78 L504.48,363.86 L505.50,363.95 L506.52,364.03 L507.54,364.11 L508.56,364.19 L509.58,364.27 L510.60,364.35 L511.62,364.43 L512.64,364.51 L513.66,364.59 L514.68,364.67 L515.70,364.75 L516.72,364.83 L517.74,364.91 L518.76,364.99 L519.78,365.06 L520.80,365.14 L521.82,365.22 L522.84,365.29 L523.86,365.37 L524.88,365.45 L525.90,365.52 L526.92,365.60 L527.94,365.67 L528.96,365.75 L529.98,365.82 L531.00,365.90 L532.02,365.97 L533.04,366.04 L534.06,366.12 L535.08,366.19 L536.10,366.26 L537.12,366.33 L538.14,366.40 L539.16,366.48 L540.18,366.55 L541.20,366.62 L542.22,366.69 L543.24,366.76 L544.26,366.83 L545.28,366.90 L546.30,366.97 L547.32,367.04 L548.34,367.11 L549.36,367.18 L550.38,367.24 L551.40,367.31 L552.42,367.38 L553.44,367.45 L554.46,367.51 L555.48,367.58 L556.50,367.65 L557.52,367.71 L558.54,367.78 L559.56,367.84 L560.58,367.91 L561.60,367.97 L562.62,368.04 L563.64,368.10 L564.66,368.17 L565.68,368.23 L566.70,368.30 L567.72,368.36 L568.74,368.42 L569.76,368.49 L570.78,368.55 L571.80,368.61 L572.82,368.67 L573.84,368.73 L574.86,368.80 L575.88,368.86 L576.90,368.92 L577.92,368.98 L578.94,369.04 L579.96,369.10 L580.98,369.16 L582.00,369.22 L583.02,369.28 L584.04,369.34 L585.06,369.40 L586.08,369.46 L587.10,369.52 L588.12,369.57 L589.14,369.63 L590.16,369.69 L591.18,369.75 L592.20,369.80 L593.22,369.86 L594.24,369.92 L595.26,369.97 L596.28,370.03 L597.30,370.09 L598.32,370.14 L599.34,370.20 L600.36,370.25 L601.38,370.31 L602.40,370.36 L603.42,370.42 L604.44,370.47 L605.46,370.53 L606.48,370.58 L607.50,370.64 L608.52,370.69 L609.54,370.74 L610.56,370.80 L611.58,370.85 L612.60,370.90 L613.62,370.95 L614.64,371.01 L615.66,371.06 L616.68,371.11 L617.70,371.16 L618.72,371.21 L619.74,371.26 L620.76,371.31 L621.78,371.37 L622.80,371.42 L623.82,371.47 L624.84,371.52 L625.86,371.57 L626.88,371.62 L627.90,371.66 L628.92,371.71 L629.94,371.76 L630.96,371.81 L631.98,371.86 L633.00,371.91 L634.02,371.96 L635.04,372.01 L636.06,372.05 L637.08,372.10 L638.10,372.15 L639.12,372.20 L640.14,372.24 L641.16,372.29 L642.18,372.34 L643.20,372.38 L644.22,372.43 L645.24,372.48 L646.26,372.52 L647.28,372.57 L648.30,372.61 L649.32,372.66 L650.34,372.70 L651.36,372.75 L652.38,372.79 L653.40,372.84 L654.42,372.88 L655.44,372.93 L656.46,372.97 L657.48,373.01 L658.50,373.06" stroke="#000000" stroke-dasharray="6.7 2.5"/>
</g>
<g class="c">
<path d="M506,60.65 H552.2" stroke="#ff0000"/>
<path d="M506,82.7 H549" stroke="#ff8000" stroke-dasharray="3 3 6 3"/>
<path d="M506,104.4 H550" stroke="#0000ff" stroke-dasharray="3 2.75"/>
<path d="M506,126.4 H552.4" stroke="#00ff00" stroke-dasharray="12.1 2.9 12.1 3 2.7 2.5"/>
<path d="M506,148.3 H552.2" stroke="#000000" stroke-dasharray="6.7 2.6"/>
</g>
<g font-size="11.55" fill="#000">
<text x="558.3" y="65.1">Numerical</text>
<text x="558.3" y="87.0">ADM n = 5</text>
<text x="558.3" y="108.9">VIM n = 5</text>
<text x="558.3" y="131.1">HPM n = 5</text>
<text x="558.3" y="152.95">BLUES n = 3</text>
</g>
</svg>
</body></html>
